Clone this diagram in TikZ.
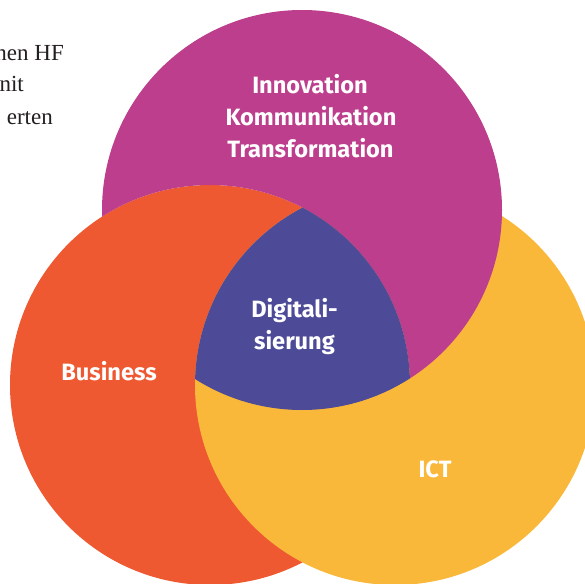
\documentclass[tikz,border=0pt]{standalone}
\usepackage{fontspec}
\setmainfont{Liberation Serif}
\newfontfamily\labelfont{Fira Sans}
\definecolor{cmag}{RGB}{188,62,140}
\definecolor{corange}{RGB}{238,89,50}
\definecolor{cyellow}{RGB}{249,184,58}
\definecolor{cpurple}{RGB}{77,74,152}
\definecolor{ctext}{RGB}{35,31,32}
\tikzset{
  lbl/.style={text=white, font=\labelfont\bfseries\fontsize{23.6}{32}\selectfont, align=center, inner sep=0pt, anchor=base},
  serif/.style={text=ctext, font=\fontsize{23}{31}\selectfont, inner sep=0pt, anchor=base east}
}
\begin{document}
\begin{tikzpicture}[x=1pt,y=-1pt]
\useasboundingbox (0,0) rectangle (585,583);
\def\cmag{(302,210) circle[radius=200]}
\def\cora{(210,385) circle[radius=200]}
\def\cyel{(395,385) circle[radius=200]}
\fill[corange] \cora;
\fill[cyellow] \cyel;
\begin{scope}[even odd rule]
  \clip (-50,-50) rectangle (650,650) \cora;
  \fill[cmag] \cmag;
\end{scope}
\begin{scope}
  \clip \cyel;
  \clip \cora;
  \clip \cmag;
  \fill[cpurple] \cmag;
\end{scope}
\node[serif] (t1) at (64,61) {nen HF};
\node[serif] (t2) at (24,92) {nit};
\node[serif] (t3) at (53,124) {erten};
\node[lbl] (l1) at (310,93) {Innovation};
\node[lbl] (l2) at (311,125) {Kommunikation};
\node[lbl] (l3) at (310.5,157) {Transformation};
\node[lbl] (d1) at (294.5,317) {Digitali-};
\node[lbl] (d2) at (294.5,349) {sierung};
\node[lbl] (b) at (109,380) {Business};
\node[lbl] (i) at (435,477) {ICT};
\end{tikzpicture}
\end{document}
